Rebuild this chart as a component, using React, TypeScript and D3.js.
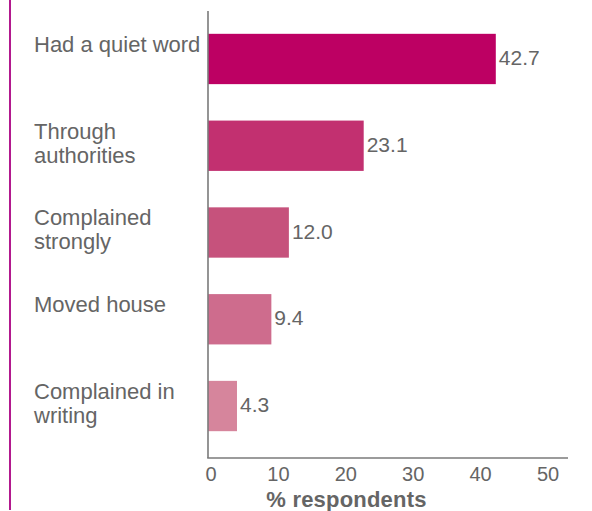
import React from "react";
import * as d3 from "d3";

const categories: string[][] = [
  ["Had a quiet word"],
  ["Through", "authorities"],
  ["Complained", "strongly"],
  ["Moved house"],
  ["Complained in", "writing"],
];
const values: number[] = [42.7, 23.1, 12.0, 9.4, 4.3];
const barColors: string[] = ["#BD0063", "#C23070", "#C6527C", "#CE6C8D", "#D6859C"];
const tickValues: number[] = [0, 10, 20, 30, 40, 50];
const axisTitle = "% respondents";

const W = 592;
const H = 511;
const FONT = "'Liberation Sans', Arial, Helvetica, sans-serif";
const TEXT = "#656565";
const AXIS = "#7a7a7a";

export default function App() {
  const keys = categories.map((c) => c.join(" "));
  const x = d3.scaleLinear().domain([0, 50]).range([208, 545]);
  const y = d3
    .scaleBand<string>()
    .domain(keys)
    .range([15.6, 449.4])
    .paddingInner(0.42)
    .paddingOuter(0.21);
  const x0 = x(0);
  const axisBottom = 458;

  return (
    <svg
      width={W}
      height={H}
      style={{ position: "absolute", left: 0, top: 0, background: "#fff" }}
      fontFamily={FONT}
    >
      <rect x={0} y={0} width={W} height={H} fill="#fff" />
      {/* left accent line */}
      <line x1={10} x2={10} y1={0} y2={510} stroke="#B2198E" strokeWidth={2} />

      {/* bars */}
      {keys.map((k, i) => {
        const by = y(k)!;
        return (
          <g key={k}>
            <rect
              x={x0}
              y={by}
              width={x(values[i]) - x0}
              height={y.bandwidth()}
              fill={barColors[i]}
            />
            <text
              x={x(values[i]) + 3}
              y={by + y.bandwidth() / 2 + 6}
              fontSize={21}
              fill={TEXT}
            >
              {values[i].toFixed(1)}
            </text>
            <text x={34} y={by + 18} fontSize={22} fill={TEXT}>
              {categories[i].map((line, j) => (
                <tspan key={j} x={34} dy={j === 0 ? 0 : 24}>
                  {line}
                </tspan>
              ))}
            </text>
          </g>
        );
      })}

      {/* axes */}
      <line x1={x0} x2={x0} y1={11} y2={axisBottom} stroke={AXIS} strokeWidth={1.6} />
      <line x1={x0 - 0.8} x2={568} y1={axisBottom} y2={axisBottom} stroke={AXIS} strokeWidth={1.6} />
      {tickValues.map((t) => (
        <text
          key={t}
          x={x(t) + 3}
          y={481}
          fontSize={20}
          fill={TEXT}
          textAnchor="middle"
        >
          {t}
        </text>
      ))}
      <text
        x={346.5}
        y={507}
        fontSize={22}
        fontWeight="bold"
        letterSpacing={0.2}
        fill={TEXT}
        textAnchor="middle"
      >
        {axisTitle}
      </text>
    </svg>
  );
}
